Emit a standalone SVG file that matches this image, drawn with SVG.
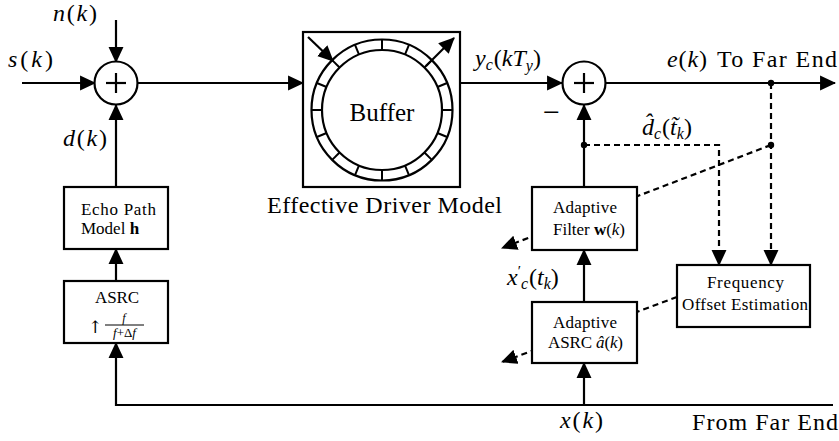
<svg xmlns="http://www.w3.org/2000/svg" width="839" height="441" viewBox="0 0 839 441">
<style>
.t{font-family:"Liberation Serif",serif}
.lbl{font-size:24px}
.box-t{font-size:17px}
.i{font-style:italic}
.b{font-weight:bold}
.ln{stroke:#000;stroke-width:2.2;fill:none}
.ds{stroke:#000;stroke-width:2.2;fill:none;stroke-dasharray:6,4}
.box{fill:#fff;stroke:#000;stroke-width:2.2}
.sum{fill:#fff;stroke:#000;stroke-width:2.2}
.tk{stroke:#000;stroke-width:2}
</style>
<defs>
<marker id="ah" markerUnits="userSpaceOnUse" markerWidth="16" markerHeight="16" viewBox="0 0 15 14" refX="14" refY="7" orient="auto">
<path d="M0,0 L15,7 L0,14 z" fill="#000"/>
</marker>
</defs>

<g id="connectors">
<line class="ln" x1="22" y1="83" x2="95" y2="83" marker-end="url(#ah)"/>
<line class="ln" x1="116" y1="20" x2="116" y2="62" marker-end="url(#ah)"/>
<line class="ln" x1="116" y1="187" x2="116" y2="105" marker-end="url(#ah)"/>
<line class="ln" x1="138" y1="83" x2="303" y2="83" marker-end="url(#ah)"/>
<line class="ln" x1="460" y1="83" x2="562" y2="83" marker-end="url(#ah)"/>
<line class="ln" x1="606" y1="83" x2="835" y2="83" marker-end="url(#ah)"/>
<line class="ln" x1="584" y1="187" x2="584" y2="105" marker-end="url(#ah)"/>
<line class="ln" x1="584" y1="302" x2="584" y2="250" marker-end="url(#ah)"/>
<line class="ln" x1="584" y1="405" x2="584" y2="363" marker-end="url(#ah)"/>
<polyline class="ln" points="833,405 116,405 116,343" marker-end="url(#ah)"/>
<line class="ln" x1="116" y1="281" x2="116" y2="249" marker-end="url(#ah)"/>
<polyline class="ds" points="584,145 719,145 719,265" marker-end="url(#ah)"/>
<line class="ds" x1="771" y1="83" x2="771" y2="265" marker-end="url(#ah)"/>
<line class="ds" x1="771" y1="145" x2="502" y2="248" marker-end="url(#ah)"/>
<line class="ds" x1="677" y1="297" x2="502" y2="362" marker-end="url(#ah)"/>
<circle cx="771" cy="83" r="3.2"/>
<circle cx="771" cy="145" r="3.2"/>
<circle cx="584" cy="145" r="3.2"/>
</g>

<g id="sum1">
<circle class="sum" cx="116" cy="83" r="21.5"/>
<line class="ln" x1="106" y1="83" x2="126" y2="83"/>
<line class="ln" x1="116" y1="73" x2="116" y2="93"/>
</g>

<g id="sum2">
<circle class="sum" cx="584" cy="83" r="21.5"/>
<line class="ln" x1="574" y1="83" x2="594" y2="83"/>
<line class="ln" x1="584" y1="73" x2="584" y2="93"/>
</g>

<g id="buffer">
<rect class="box" x="303" y="32" width="157" height="155"/>
<circle cx="382" cy="110" r="70.5" fill="none" stroke="#000" stroke-width="2.2"/>
<circle cx="382" cy="110" r="60" fill="none" stroke="#000" stroke-width="2.2"/>
<g class="tk">
<line x1="382" y1="39.5" x2="382" y2="50" transform="rotate(0 382 110)"/>
<line x1="382" y1="39.5" x2="382" y2="50" transform="rotate(22.5 382 110)"/>
<line x1="382" y1="39.5" x2="382" y2="50" transform="rotate(45 382 110)"/>
<line x1="382" y1="39.5" x2="382" y2="50" transform="rotate(67.5 382 110)"/>
<line x1="382" y1="39.5" x2="382" y2="50" transform="rotate(90 382 110)"/>
<line x1="382" y1="39.5" x2="382" y2="50" transform="rotate(112.5 382 110)"/>
<line x1="382" y1="39.5" x2="382" y2="50" transform="rotate(135 382 110)"/>
<line x1="382" y1="39.5" x2="382" y2="50" transform="rotate(157.5 382 110)"/>
<line x1="382" y1="39.5" x2="382" y2="50" transform="rotate(180 382 110)"/>
<line x1="382" y1="39.5" x2="382" y2="50" transform="rotate(202.5 382 110)"/>
<line x1="382" y1="39.5" x2="382" y2="50" transform="rotate(225 382 110)"/>
<line x1="382" y1="39.5" x2="382" y2="50" transform="rotate(247.5 382 110)"/>
<line x1="382" y1="39.5" x2="382" y2="50" transform="rotate(270 382 110)"/>
<line x1="382" y1="39.5" x2="382" y2="50" transform="rotate(292.5 382 110)"/>
<line x1="382" y1="39.5" x2="382" y2="50" transform="rotate(315 382 110)"/>
<line x1="382" y1="39.5" x2="382" y2="50" transform="rotate(337.5 382 110)"/>
</g>
<line class="ln" x1="308" y1="37" x2="333" y2="61" marker-end="url(#ah)"/>
<line class="ln" x1="426" y1="66" x2="454" y2="38" marker-end="url(#ah)"/>
<text class="t" x="382" y="121" font-size="25" text-anchor="middle">Buffer</text>
<text class="t lbl" x="267" y="213" textLength="235">Effective Driver Model</text>
</g>

<g id="echo-path">
<rect class="box" x="64" y="187" width="104" height="62"/>
<text class="t box-t" x="81" y="215" textLength="75">Echo Path</text>
<text class="t box-t" x="81" y="234">Model <tspan class="b">h</tspan></text>
</g>

<g id="asrc">
<rect class="box" x="64" y="281" width="104" height="62"/>
<text class="t box-t" x="95" y="303" textLength="44">ASRC</text>
<text x="88" y="333" font-size="17" font-family="DejaVu Serif, DejaVu Sans, serif" fill="#000">↑</text>
<text class="t i" x="124" y="322" font-size="12" text-anchor="middle">f</text>
<line x1="105" y1="325" x2="144" y2="325" stroke="#000" stroke-width="1"/>
<text class="t" x="124.5" y="337" font-size="13" text-anchor="middle"><tspan class="i">f</tspan>+Δ<tspan class="i">f</tspan></text>
</g>

<g id="adaptive-filter">
<rect class="box" x="532" y="187" width="105" height="63"/>
<text class="t box-t" x="553" y="213" textLength="64">Adaptive</text>
<text class="t box-t" x="553" y="235" textLength="72">Filter <tspan class="b">w</tspan>(<tspan class="i">k</tspan>)</text>
</g>

<g id="adaptive-asrc">
<rect class="box" x="532" y="302" width="105" height="61"/>
<text class="t box-t" x="553" y="328" textLength="64">Adaptive</text>
<text class="t box-t" x="548" y="348" textLength="75">ASRC <tspan class="i">â</tspan>(<tspan class="i">k</tspan>)</text>
</g>

<g id="freq-offset">
<rect class="box" x="677" y="265" width="133" height="62"/>
<text class="t box-t" x="707" y="288" textLength="77">Frequency</text>
<text class="t box-t" x="682" y="310" textLength="126">Offset Estimation</text>
</g>

<g id="labels">
<text class="t lbl" x="53" y="21" textLength="44"><tspan class="i">n</tspan>(<tspan class="i">k</tspan>)</text>
<text class="t lbl" x="8" y="67" textLength="45"><tspan class="i">s</tspan>(<tspan class="i">k</tspan>)</text>
<text class="t lbl" x="63" y="146" textLength="44"><tspan class="i">d</tspan>(<tspan class="i">k</tspan>)</text>
<text class="t lbl" x="475" y="66"><tspan class="i">y</tspan><tspan font-size="16" class="i" dy="4">c</tspan><tspan dy="-4" dx="1">(</tspan><tspan class="i">kT</tspan><tspan font-size="16" class="i" dy="5">y</tspan><tspan dy="-5">)</tspan></text>
<text class="t lbl" x="667" y="67" textLength="40"><tspan class="i">e</tspan>(<tspan class="i">k</tspan>)</text>
<text class="t lbl" x="717" y="67" textLength="120">To Far End</text>
<text class="t" x="543" y="122" font-size="30">−</text>
<text class="t lbl" x="642" y="135"><tspan class="i">d̂</tspan><tspan font-size="16" class="i" dy="4">c</tspan><tspan dy="-4" dx="1">(</tspan><tspan class="i">t̃</tspan><tspan font-size="16" class="i" dy="4">k</tspan><tspan dy="-4">)</tspan></text>
<text class="t lbl" x="507" y="285"><tspan class="i">x</tspan><tspan font-size="15" dy="-9">′</tspan><tspan font-size="16" class="i" dy="13">c</tspan><tspan dy="-4" dx="1">(</tspan><tspan class="i">t</tspan><tspan font-size="16" class="i" dy="4">k</tspan><tspan dy="-4">)</tspan></text>
<text class="t lbl" x="560" y="428" textLength="43"><tspan class="i">x</tspan>(<tspan class="i">k</tspan>)</text>
<text class="t lbl" x="692" y="430" textLength="146">From Far End</text>
</g>
</svg>
